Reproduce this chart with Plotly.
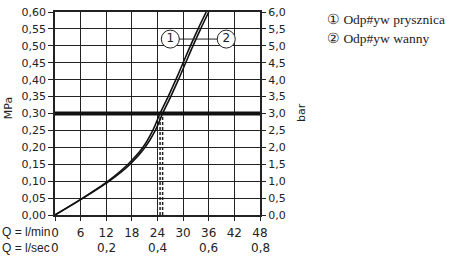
import plotly.graph_objects as go

# Data
q_lmin_ticks = [0, 6, 12, 18, 24, 30, 36, 42, 48]
q_lsec_pos = [0, 12, 24, 36, 48]
q_lsec_labels = ["0", "0,2", "0,4", "0,6", "0,8"]
mpa_ticks = [0.0, 0.05, 0.10, 0.15, 0.20, 0.25, 0.30, 0.35, 0.40, 0.45, 0.50, 0.55, 0.60]

p_curve = [0, 0.046, 0.10, 0.15, 0.20, 0.25, 0.30, 0.35, 0.40, 0.45, 0.50, 0.55, 0.60]
q_curve1 = [0, 6.0, 12.4, 17.1, 20.6, 22.9, 24.6, 26.5, 28.3, 30.0, 31.7, 33.5, 35.4]
q_curve2 = [0, 6.1, 12.7, 17.6, 21.1, 23.5, 25.2, 27.1, 28.9, 30.6, 32.3, 34.1, 36.0]

ref_pressure = 0.30
cross_q = [24.6, 25.2]

label_q = [27.0, 40.1]
label_p = [0.52, 0.52]
label_txt = ["1", "2"]
legend_lines = ["\u2460 Odp#yw prysznica", "\u2461 Odp#yw wanny"]

tick_font = dict(family="DejaVu Sans", size=11, color="#222")
bottom_font = dict(family="DejaVu Sans", size=12, color="#222")
qlabel_font = dict(family="Liberation Sans", size=12, color="#222")

fig = go.Figure()

# heavy reference line
fig.add_trace(go.Scatter(x=[0, 48], y=[ref_pressure, ref_pressure], mode="lines",
                         line=dict(color="#111", width=4), hoverinfo="skip", cliponaxis=False))
# dashed drops
for q in cross_q:
    fig.add_trace(go.Scatter(x=[q, q], y=[0, ref_pressure], mode="lines",
                             line=dict(color="#222", width=1.5, dash="3px,2px"), hoverinfo="skip"))
# curves
for qc in (q_curve1, q_curve2):
    fig.add_trace(go.Scatter(x=qc, y=p_curve, mode="lines",
                             line=dict(color="#111", width=1.6, shape="spline", smoothing=0.8),
                             hoverinfo="skip"))
# connector line between labels
fig.add_trace(go.Scatter(x=label_q, y=label_p, mode="lines", line=dict(color="#222", width=1), hoverinfo="skip"))
fig.add_trace(go.Scatter(x=label_q, y=label_p, mode="markers+text", text=label_txt,
                         textposition="middle center",
                         textfont=dict(family="DejaVu Sans", size=12, color="#222"),
                         marker=dict(size=18, color="white", line=dict(color="#222", width=1)),
                         hoverinfo="skip", cliponaxis=False))
# right axis dummy
fig.add_trace(go.Scatter(x=[0], y=[0], yaxis="y2", mode="markers", marker=dict(opacity=0), hoverinfo="skip"))

fig.update_layout(
    width=450, height=259,
    margin=dict(l=55, r=190, t=6, b=44),
    paper_bgcolor="white", plot_bgcolor="white",
    showlegend=False,
    separators=", ",
    xaxis=dict(range=[0, 48], tickvals=q_lmin_ticks, ticktext=[str(v) for v in q_lmin_ticks],
               showgrid=True, gridcolor="#222", gridwidth=1.3, zeroline=False,
               showline=True, linecolor="#222", linewidth=1.5, mirror=True,
               ticks="outside", ticklen=4, tickcolor="#222", tickfont=bottom_font,
               ticklabelstandoff=2),
    yaxis=dict(range=[0, 0.6], tickvals=mpa_ticks, tickformat=".2f",
               showgrid=True, gridcolor="#222", gridwidth=1.3, zeroline=False,
               showline=True, linecolor="#222", linewidth=1.5, mirror=True,
               ticks="outside", ticklen=5, tickcolor="#222", tickfont=tick_font),
    yaxis2=dict(range=[0, 6], dtick=0.5, tickformat=".1f", overlaying="y", side="right",
                showgrid=False, zeroline=False, ticks="outside", ticklen=5, tickcolor="#222",
                tickfont=tick_font),
)

annotations = [
    dict(text="MPa", x=8, y=105, textangle=-90, font=tick_font),
    dict(text="bar", x=301, y=110, textangle=-90, font=tick_font),
    dict(text="Q = l/min", x=0, y=233, xanchor="left", font=qlabel_font),
    dict(text="Q = l/sec", x=0, y=249, xanchor="left", font=qlabel_font),
]
for a in annotations:
    fig.add_annotation(text=a["text"], xref="paper", yref="paper",
                       x=(a["x"] - 55) / 205, y=(215 - a["y"]) / 209,
                       xanchor=a.get("xanchor", "center"), yanchor="middle",
                       textangle=a.get("textangle", 0), showarrow=False, font=a["font"])
for pos, lab in zip(q_lsec_pos, q_lsec_labels):
    fig.add_annotation(text=lab, x=pos, xref="x", yref="paper", y=(215 - 249) / 209,
                       xanchor="center", yanchor="middle", showarrow=False, font=bottom_font)
for i, line in enumerate(legend_lines):
    fig.add_annotation(text=line, xref="paper", yref="paper", x=(325 - 55) / 205,
                       y=(215 - (14 + 19 * i)) / 209, xanchor="left", yanchor="middle",
                       showarrow=False, font=dict(family="Liberation Serif", size=13.5, color="#222"))

fig.write_html("out.html")
